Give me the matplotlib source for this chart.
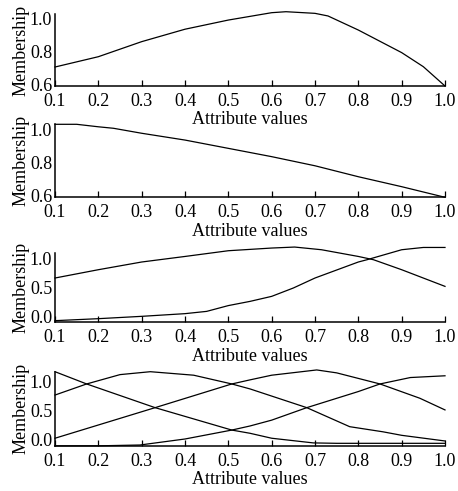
import numpy as np
import matplotlib
matplotlib.use('Agg')
import matplotlib.pyplot as plt

plt.rcParams['font.family'] = ['Liberation Serif', 'DejaVu Serif']

# panel 1: single membership curve
x1 = [0.1, 0.2, 0.3, 0.4, 0.5, 0.6, 0.633, 0.7, 0.73, 0.8, 0.9, 0.95, 1.0]
y1 = [0.706, 0.769, 0.861, 0.937, 0.993, 1.038, 1.044, 1.034, 1.018, 0.932, 0.794, 0.708, 0.59]

# panel 2: single decreasing curve
x2 = [0.1, 0.15, 0.2, 0.235, 0.3, 0.4, 0.5, 0.6, 0.7, 0.8, 0.9, 1.0]
y2 = [1.03, 1.03, 1.015, 1.006, 0.976, 0.935, 0.885, 0.835, 0.78, 0.714, 0.654, 0.59]

# panel 3: two curves
x3a = [0.1, 0.2, 0.3, 0.4, 0.5, 0.6, 0.653, 0.715, 0.8, 0.835, 0.9, 1.0]
y3a = [0.662, 0.804, 0.936, 1.031, 1.129, 1.175, 1.192, 1.146, 1.031, 0.975, 0.804, 0.519]
x3b = [0.1, 0.2, 0.3, 0.4, 0.45, 0.5, 0.55, 0.6, 0.65, 0.7, 0.8, 0.82, 0.9, 0.95, 1.0]
y3b = [-0.068, -0.034, 0.006, 0.052, 0.091, 0.19, 0.262, 0.348, 0.491, 0.662, 0.936, 0.975, 1.146, 1.185, 1.185]

# panel 4: four curves
x4a = [0.1, 0.173, 0.331, 0.508, 0.55, 0.6, 0.696, 0.75, 1.0]
y4a = [1.17, 0.96, 0.554, 0.17, 0.115, 0.03, -0.05, -0.057, -0.057]
x4b = [0.1, 0.173, 0.25, 0.32, 0.42, 0.508, 0.55, 0.681, 0.78, 0.857, 0.9, 1.0]
y4b = [0.77, 0.96, 1.12, 1.17, 1.11, 0.96, 0.875, 0.554, 0.228, 0.14, 0.08, -0.017]
x4c = [0.1, 0.331, 0.508, 0.55, 0.6, 0.704, 0.75, 0.85, 0.942, 1.0]
y4c = [0.03, 0.554, 0.96, 1.03, 1.11, 1.2, 1.15, 0.96, 0.715, 0.515]
x4d = [0.1, 0.2, 0.296, 0.4, 0.508, 0.55, 0.6, 0.681, 0.8, 0.85, 0.92, 1.0]
y4d = [-0.1, -0.1, -0.086, 0.017, 0.17, 0.24, 0.34, 0.554, 0.83, 0.96, 1.07, 1.1]

xticks = [0.1, 0.2, 0.3, 0.4, 0.5, 0.6, 0.7, 0.8, 0.9, 1.0]

fig = plt.figure(figsize=(4.58, 4.91), dpi=100)
W, H = 458, 491

def make_ax(top, bottom):
    return fig.add_axes([55 / W, 1 - bottom / H, 390 / W, (bottom - top) / H])

panels = [
    (14, 86, [(x1, y1)], (0.59, 1.03), [0.6, 0.8, 1.0]),
    (124.3, 197.3, [(x2, y2)], (0.59, 1.03), [0.6, 0.8, 1.0]),
    (253.3, 322.3, [(x3a, y3a), (x3b, y3b)], (-0.096, 1.085), [0.0, 0.5, 1.0]),
    (371.7, 446, [(x4a, y4a), (x4b, y4b), (x4c, y4c), (x4d, y4d)], (-0.103, 1.17), [0.0, 0.5, 1.0]),
]

for top, bottom, curves, ylim, yticks in panels:
    ax = make_ax(top, bottom)
    ax.patch.set_visible(False)  # don't hide the xlabel of the panel above
    for xs, ys in curves:
        ax.plot(xs, ys, color='black', lw=0.9, clip_on=False)
    ax.set_xlim(0.1, 1.0)
    ax.set_ylim(*ylim)
    ax.set_xticks(xticks)
    ax.set_xticklabels(['%.1f' % v for v in xticks])
    ax.set_yticks(yticks)
    ax.set_yticklabels(['%.1f' % v for v in yticks])
    ax.spines['top'].set_visible(False)
    ax.spines['right'].set_visible(False)
    ax.spines['left'].set_linewidth(1.1)
    ax.spines['bottom'].set_linewidth(1.1)
    ax.tick_params(axis='x', direction='in', length=4, width=0.9, pad=5, labelsize=13)
    ax.tick_params(axis='y', length=0, pad=2, labelsize=13)
    ax.set_xlabel('Attribute values', fontsize=13, labelpad=1)
    ax.set_ylabel('Membership', fontsize=13, labelpad=0)

fig.savefig('out.png', dpi=100)
